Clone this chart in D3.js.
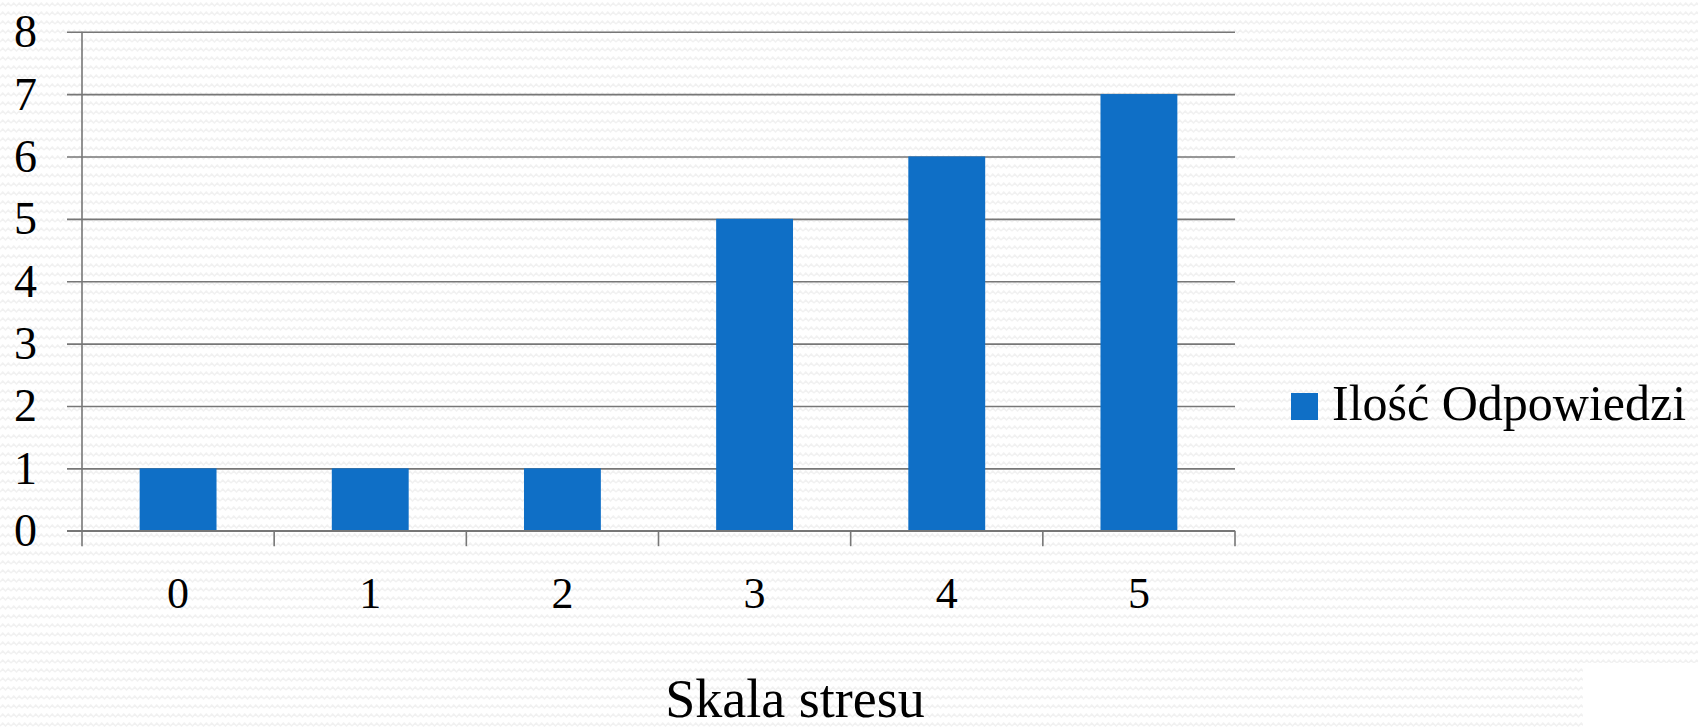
<!DOCTYPE html>
<html>
<head>
<meta charset="utf-8">
<script src="https://cdn.jsdelivr.net/npm/d3@7/dist/d3.min.js"></script>
<style>
html,body{margin:0;padding:0;background:#fff;}
svg{display:block;}
text{font-family:"Liberation Serif","Times New Roman",serif;fill:#000;}
</style>
</head>
<body>
<svg id="chart" width="1698" height="728"></svg>
<script>
const categories = ["0","1","2","3","4","5"];
const values = [1,1,1,5,6,7];
const yTicks = [0,1,2,3,4,5,6,7,8];
const seriesName = "Ilość Odpowiedzi";
const xTitle = "Skala stresu";

(function(){
const W = 1698, H = 728;
const mLeft = 82, mRight = 1235, mTop = 31.7, mBottom = 530.7;
const gridStart = 67;
const barColor = "#0f6fc6";
const lineColor = "#777777";

const svg = d3.select("#chart");
const defs = svg.append("defs");
const pat = defs.append("pattern").attr("id","zig").attr("patternUnits","userSpaceOnUse")
  .attr("width",11).attr("height",9);
pat.append("rect").attr("width",11).attr("height",9).attr("fill","#ffffff");
pat.append("path").attr("d","M0,6 L2.75,3 L5.5,6 L8.25,3 L11,6")
  .attr("fill","none").attr("stroke","#f1f1f1").attr("stroke-width",1.5);

svg.append("rect").attr("width",W).attr("height",H).attr("fill","url(#zig)");
svg.append("rect").attr("x",1583).attr("y",663).attr("width",W-1583).attr("height",H-663).attr("fill","#ffffff");

const x = d3.scaleBand().domain(categories).range([mLeft,mRight]).paddingInner(0.6).paddingOuter(0.3);
const y = d3.scaleLinear().domain([0,8]).range([mBottom,mTop]);

// y gridlines + labels
const yAxis = svg.append("g").attr("transform",`translate(${mRight},0)`)
  .call(d3.axisLeft(y).tickValues(yTicks).tickSize(mRight-gridStart).tickPadding(30).tickFormat(d3.format("d")));
yAxis.select(".domain").remove();
yAxis.selectAll(".tick line").attr("stroke",lineColor).attr("stroke-width",1.6);
yAxis.selectAll(".tick text").attr("font-size",46).attr("dy","15px")
  .style("font-family",'"Liberation Serif",serif').attr("fill","#000");

// bars
svg.append("g").selectAll("rect").data(values).join("rect")
  .attr("x",(d,i)=>x(categories[i]))
  .attr("width",x.bandwidth())
  .attr("y",d=>y(d))
  .attr("height",d=>y(0)-y(d))
  .attr("fill",barColor);

// zero line on top
svg.append("line").attr("x1",gridStart).attr("x2",mRight).attr("y1",y(0)).attr("y2",y(0))
  .attr("stroke",lineColor).attr("stroke-width",1.6);

// vertical axis line
svg.append("line").attr("x1",mLeft).attr("x2",mLeft).attr("y1",mTop).attr("y2",y(0)+15.5)
  .attr("stroke",lineColor).attr("stroke-width",1.6);

// category boundary ticks
const bounds = d3.range(categories.length+1).map(i=>x.range()[0]+i*x.step());
svg.append("g").selectAll("line").data(bounds.slice(1)).join("line")
  .attr("x1",d=>d).attr("x2",d=>d).attr("y1",y(0)).attr("y2",y(0)+15.5)
  .attr("stroke",lineColor).attr("stroke-width",1.6);

// x labels
const xAxis = svg.append("g").attr("transform",`translate(0,${y(0)})`)
  .call(d3.axisBottom(x).tickSize(0).tickPadding(46));
xAxis.select(".domain").remove();
xAxis.selectAll(".tick text").attr("font-size",44).attr("y",46).attr("dy","31px")
  .style("font-family",'"Liberation Serif",serif').attr("fill","#000");

// x title
svg.append("text").attr("x",795).attr("y",717).attr("text-anchor","middle")
  .attr("font-size",54).text(xTitle);

// legend
svg.append("rect").attr("x",1291).attr("y",393).attr("width",27).attr("height",27).attr("fill",barColor);
svg.append("text").attr("x",1332).attr("y",420).attr("font-size",50).text(seriesName);
})();
</script>
</body>
</html>
